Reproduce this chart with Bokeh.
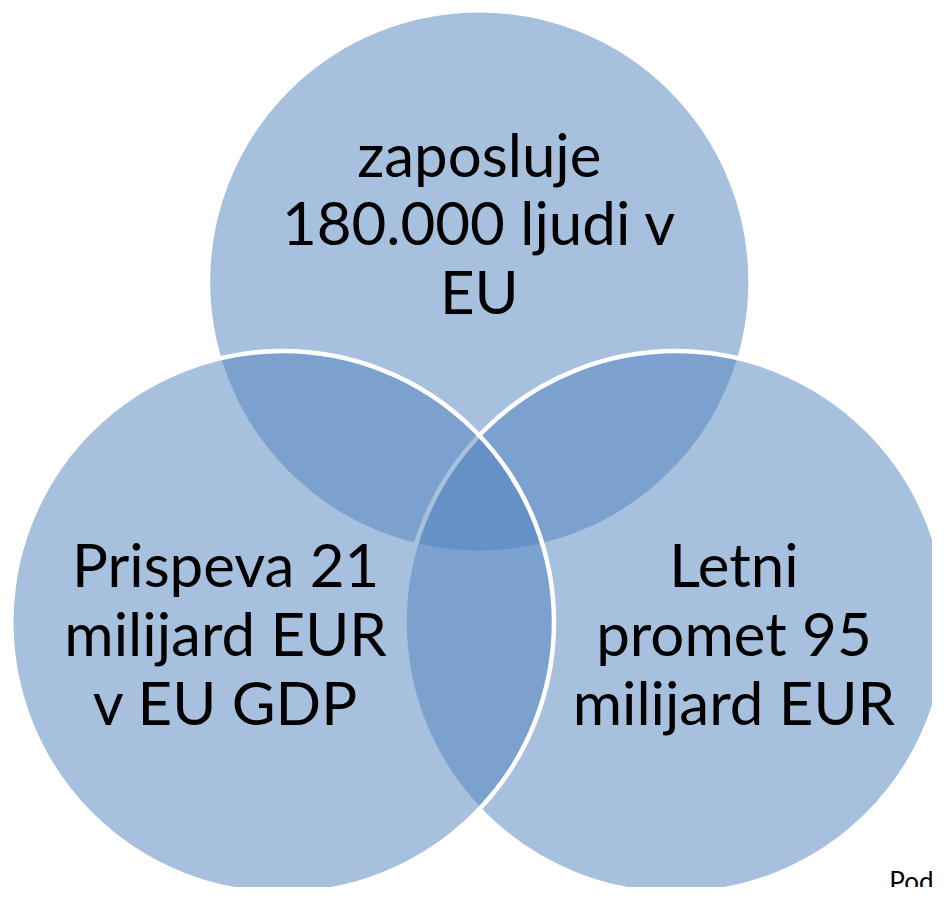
from bokeh.plotting import figure
from bokeh.models import Range1d, ColumnDataSource
from bokeh.core.properties import value
from bokeh.embed import file_html
from bokeh.resources import INLINE

# --- content ---
circle_names = ["top", "right", "left"]          # drawing order
circle_x = [487, 687, 287]
circle_y = [286, 633, 633]
circle_r = 276

top_lines = ["zaposluje", "180.000 ljudi v", "EU"]
left_lines = ["Prispeva 21", "milijard EUR", "v EU GDP"]
right_lines = ["Letni", "promet 95", "milijard EUR"]
source_note = "Pod"

FILL = "#4F81BD"
FONT = "Lato"

W, H = 932, 887
p = figure(width=W, height=H, output_backend="svg", toolbar_location=None,
           x_range=Range1d(0, 948), y_range=Range1d(903, 0),
           min_border=0, outline_line_color=None, background_fill_color="white",
           border_fill_color="white")
p.axis.visible = False
p.grid.visible = False

src = ColumnDataSource(dict(x=circle_x, y=circle_y, name=circle_names))
p.circle(x="x", y="y", radius=circle_r, source=src, fill_color=FILL,
         fill_alpha=0.5, line_color="white", line_width=4.5, line_alpha=1.0)

LINE_H = 70


def add_lines(lines, cx, base_y):
    xs = [cx] * len(lines)
    ys = [base_y + i * LINE_H for i in range(len(lines))]
    p.text(x=xs, y=ys, text=lines, text_align="center",
           text_baseline="alphabetic", text_font=value(FONT),
           text_font_size="60px", text_color="black")


add_lines(top_lines, circle_x[0], circle_y[0] - 130)
add_lines(right_lines, circle_x[1] + 59, circle_y[1] - 59)
add_lines(left_lines, circle_x[2] - 58, circle_y[2] - 59)

p.text(x=[904], y=[880], text=[source_note], text_align="left",
       text_baseline="top", text_font=value(FONT), text_font_size="26px",
       text_color="black")

open("out.html", "w").write(file_html(p, INLINE))
